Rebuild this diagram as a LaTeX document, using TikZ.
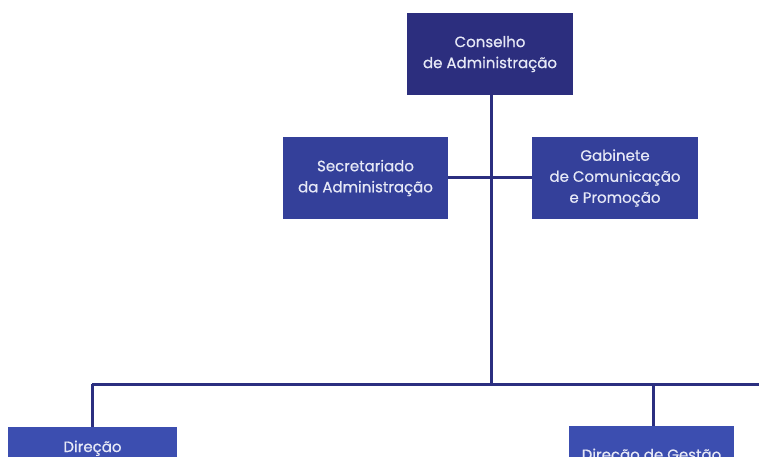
\documentclass[tikz,border=0pt]{standalone}
\usepackage{fontspec}
\setmainfont{Poppins}[FakeBold=0.6]
\definecolor{navy}{HTML}{2C2E7E}
\definecolor{midblue}{HTML}{34409A}
\definecolor{lowblue}{HTML}{3C4EB0}
\definecolor{linecol}{HTML}{2B2F80}
\definecolor{txt}{HTML}{E6E8F6}
\tikzset{
  orgbox/.style={rectangle, draw=none, text=txt, align=center, inner sep=0pt,
    font=\fontsize{15}{21}\selectfont, minimum width=166pt, minimum height=82pt},
  boxtext/.style={text=txt, font=\fontsize{15}{21}\selectfont, inner sep=0pt},
  link/.style={draw=linecol, line width=3pt}
}
\begin{document}
\begin{tikzpicture}[x=1pt,y=-1pt]
\useasboundingbox (0,0) rectangle (759,456);
\clip (0,0) rectangle (759,456);
\fill[white] (0,0) rectangle (759,456);
% nodes
\node[orgbox, fill=navy] (top) at (490,54) {Conselho\\de Administração};
\node[orgbox, fill=midblue, minimum width=165pt] (sec) at (365.5,178) {Secretariado\\da Administração};
\node[orgbox, fill=midblue] (gab) at (615,178) {Gabinete\\de Comunicação\\e Promoção};
\node[orgbox, fill=lowblue, minimum width=169pt, minimum height=80pt, anchor=north] (dl) at (92.5,427) {};
\node[orgbox, fill=lowblue, minimum width=165pt, minimum height=80pt, anchor=north] (dr) at (651.5,426) {};
\node[boxtext, anchor=base] (dlt) at (92.5,452) {Direção};
\node[boxtext, anchor=base] (drt) at (651.5,460) {Direção de Gestão};
% coordinates
\coordinate (busc) at (491,384);
\coordinate (busl) at (92,384);
\coordinate (busr) at (759,384);
\coordinate (busm) at (653,384);
\coordinate (br) at (491,177);
% connectors
\draw[link] (top.south -| busc) -- (busc);
\draw[link] (sec.east |- br) -- (gab.west |- br);
\draw[link] (busl) -- (busr);
\draw[link] (busl) -- (busl |- dl.north);
\draw[link] (busm) -- (busm |- dr.north);
\end{tikzpicture}
\end{document}
